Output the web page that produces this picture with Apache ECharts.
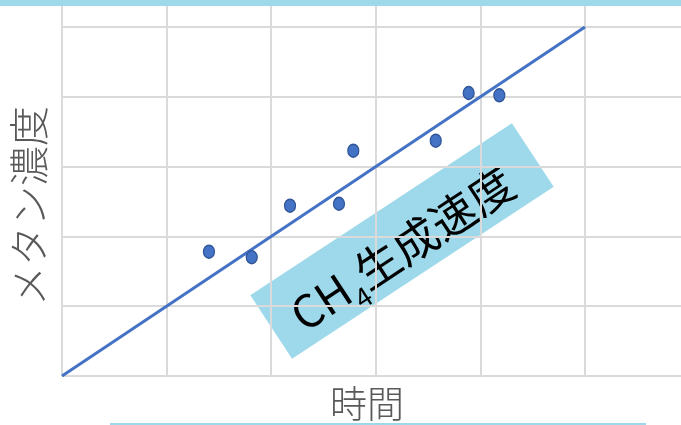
<!DOCTYPE html>
<html>
<head>
<meta charset="utf-8">
<script src="https://cdn.jsdelivr.net/npm/echarts@6/dist/echarts.min.js"></script>
<style>
  html, body { margin: 0; padding: 0; background: #fff; }
  #chart { width: 681px; height: 425px; }
</style>
</head>
<body>
<div id="chart"></div>
<script>
// Measured samples: elapsed time vs. methane concentration
const timeValues    = [1.405, 1.814, 2.180, 2.648, 2.785, 3.573, 3.888, 4.181];
const methaneValues = [1.781, 1.701, 2.440, 2.468, 3.228, 3.371, 4.054, 4.021];

// Fitted straight line (rate of CH4 production)
const trendTime    = [0, 5];
const trendMethane = [0, 5];

const xTitle = '時間';
const yTitle = 'メタン濃度';
const noteParts = ['CH', '4', '生成速度'];

const FONT = '"Noto Sans CJK JP", "Noto Sans", sans-serif';
const GRID_COLOR = '#DADADA';
const ACCENT = '#9DD9EA';
const TEXT_GRAY = '#595959';

const chart = echarts.init(document.getElementById('chart'), null, { renderer: 'canvas' });

const angle = 33.3 * Math.PI / 180;

chart.setOption({
  animation: false,
  backgroundColor: '#ffffff',
  grid: { left: 62, top: 5, right: 0, bottom: 49, containLabel: false },
  xAxis: {
    type: 'value',
    min: 0, max: 5.918, interval: 1,
    axisLine: { show: false },
    axisTick: { show: false },
    axisLabel: { show: false },
    splitLine: { show: true, showMaxLine: false, lineStyle: { color: GRID_COLOR, width: 2 } }
  },
  yAxis: {
    type: 'value',
    min: 0, max: 5.315, interval: 1,
    axisLine: { show: false },
    axisTick: { show: false },
    axisLabel: { show: false },
    splitLine: { show: true, showMaxLine: false, lineStyle: { color: GRID_COLOR, width: 2 } }
  },
  series: [
    {
      type: 'line',
      data: trendTime.map((t, i) => [t, trendMethane[i]]),
      symbol: 'none',
      lineStyle: { color: '#4472C4', width: 3 },
      z: 3
    },
    {
      type: 'scatter',
      data: timeValues.map((t, i) => [t, methaneValues[i]]),
      symbol: 'circle',
      symbolSize: [11, 13],
      itemStyle: { color: '#4472C4', borderColor: '#2F5597', borderWidth: 1.3, opacity: 1 },
      z: 4
    }
  ],
  graphic: [
    // top accent band
    { type: 'rect', left: 0, top: 0, z: 10,
      shape: { width: 681, height: 6 }, style: { fill: ACCENT } },
    // bottom accent rule
    { type: 'rect', left: 110, top: 423, z: 10,
      shape: { width: 536, height: 2 }, style: { fill: ACCENT } },
    // axis titles
    { type: 'text', x: 367, y: 404, z: 10,
      style: { text: xTitle, font: '300 37px ' + FONT, fill: TEXT_GRAY, align: 'center', verticalAlign: 'middle' } },
    { type: 'text', x: 29, y: 206, rotation: Math.PI / 2, z: 10,
      style: { text: yTitle, font: '300 40px ' + FONT, fill: TEXT_GRAY, align: 'center', verticalAlign: 'middle' } },
    // rotated callout
    { type: 'group', x: 402, y: 241, rotation: angle, z: 20,
      children: [
        { type: 'rect', shape: { x: -156.5, y: -38, width: 313, height: 76 }, style: { fill: ACCENT } },
        { type: 'text', x: -4, y: 4,
          style: {
            text: '{a|' + noteParts[0] + '}{b|' + noteParts[1] + '}{a|' + noteParts[2] + '}',
            align: 'center', verticalAlign: 'middle',
            rich: {
              a: { fontSize: 45, fontWeight: 400, fontFamily: FONT, fill: '#000', color: '#000', lineHeight: 50, verticalAlign: 'bottom' },
              b: { fontSize: 27, fontWeight: 400, fontFamily: FONT, fill: '#000', color: '#000', lineHeight: 50, verticalAlign: 'bottom', padding: [0, 0, -10, 0] }
            }
          } }
      ] }
  ]
});
</script>
</body>
</html>
